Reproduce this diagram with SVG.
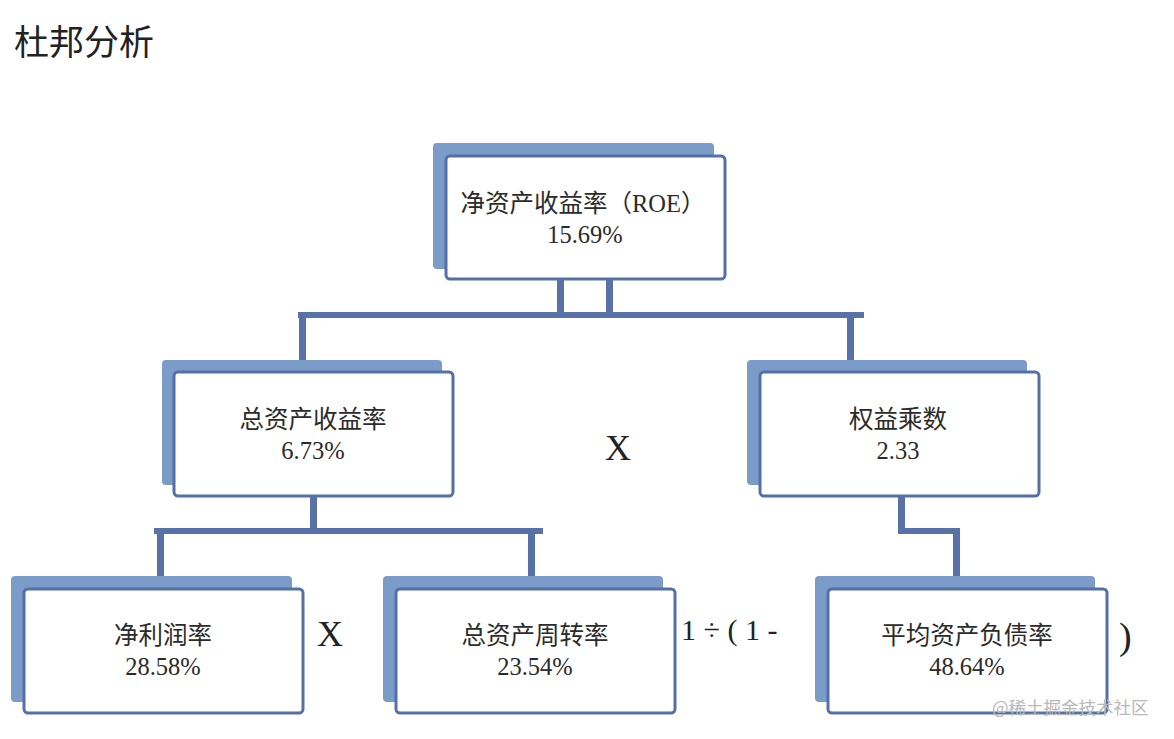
<svg xmlns="http://www.w3.org/2000/svg" width="1174" height="739" viewBox="0 0 1174 739">
<style>
.sh{fill:#7b9bc8}
.bx{fill:#fff;stroke:#5570a6;stroke-width:3}
.t{font-family:"Liberation Serif","Noto Sans CJK SC",serif;font-size:24.5px;fill:#2b2b2b;text-anchor:middle}
.op{font-family:"Liberation Serif","Noto Sans CJK SC",serif;fill:#222}
.ln{fill:#5872a7}
</style>
<rect width="1174" height="739" fill="#fff"/>
<text x="14" y="55" class="op" style="font-size:35px">杜邦分析</text>
<g id="connectors">
<rect class="ln" x="557" y="279" width="7" height="36"/>
<rect class="ln" x="606" y="279" width="7" height="36"/>
<rect class="ln" x="298" y="312" width="566" height="6"/>
<rect class="ln" x="299" y="312" width="7" height="48"/>
<rect class="ln" x="847" y="312" width="7" height="48"/>
<rect class="ln" x="310" y="497" width="7" height="34"/>
<rect class="ln" x="154" y="528" width="389" height="6"/>
<rect class="ln" x="157" y="528" width="7" height="48"/>
<rect class="ln" x="528" y="528" width="7" height="48"/>
<rect class="ln" x="898" y="497" width="7" height="37"/>
<rect class="ln" x="898" y="528" width="62" height="6"/>
<rect class="ln" x="953" y="528" width="7" height="48"/>
</g>
<g id="roe">
<rect class="sh" x="433" y="143" width="281" height="126" rx="4"/>
<rect class="bx" x="446" y="156" width="279" height="123" rx="4"/>
<text class="t" x="583" y="212">净资产收益率（ROE）</text>
<text class="t" x="585" y="243">15.69%</text>
</g>
<g id="roa">
<rect class="sh" x="162" y="360" width="280" height="125" rx="4"/>
<rect class="bx" x="174" y="372" width="279" height="124" rx="4"/>
<text class="t" x="313" y="428">总资产收益率</text>
<text class="t" x="313" y="459">6.73%</text>
</g>
<g id="em">
<rect class="sh" x="747" y="360" width="280" height="125" rx="4"/>
<rect class="bx" x="760" y="372" width="279" height="124" rx="4"/>
<text class="t" x="898" y="428">权益乘数</text>
<text class="t" x="898" y="459">2.33</text>
</g>
<g id="npm">
<rect class="sh" x="11" y="576" width="281" height="126" rx="4"/>
<rect class="bx" x="24" y="589" width="279" height="124" rx="4"/>
<text class="t" x="163" y="644">净利润率</text>
<text class="t" x="163" y="675">28.58%</text>
</g>
<g id="tat">
<rect class="sh" x="383" y="576" width="280" height="126" rx="4"/>
<rect class="bx" x="396" y="589" width="279" height="124" rx="4"/>
<text class="t" x="535" y="644">总资产周转率</text>
<text class="t" x="535" y="675">23.54%</text>
</g>
<g id="dr">
<rect class="sh" x="815" y="576" width="280" height="126" rx="4"/>
<rect class="bx" x="828" y="589" width="279" height="124" rx="4"/>
<text class="t" x="967" y="644">平均资产负债率</text>
<text class="t" x="967" y="675">48.64%</text>
</g>
<g id="operators">
<text class="op" x="618" y="460" style="font-size:36px;text-anchor:middle">X</text>
<text class="op" x="330" y="646" style="font-size:36px;text-anchor:middle">X</text>
<text class="op" x="681" y="640" style="font-size:30px">1 ÷ ( 1 -</text>
<text class="op" x="1119" y="649" style="font-size:38px">)</text>
</g>
<text x="992" y="714" style="font-family:'Noto Sans CJK SC',sans-serif;font-size:17.5px;fill:#b8b8b8">@稀土掘金技术社区</text>
</svg>
